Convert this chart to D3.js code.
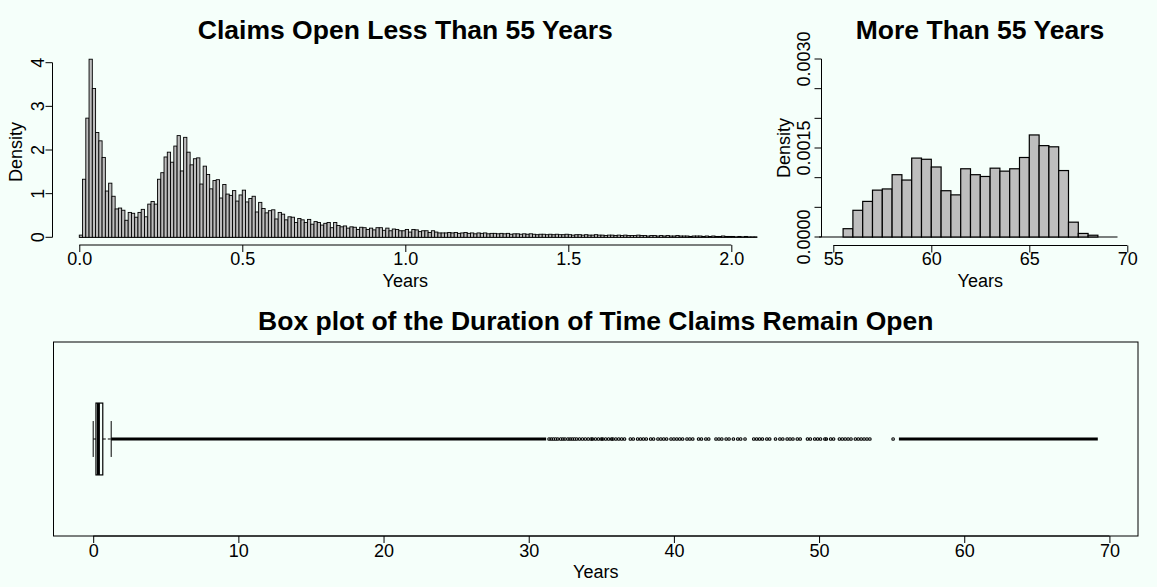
<!DOCTYPE html>
<html>
<head>
<meta charset="utf-8">
<script src="https://cdn.jsdelivr.net/npm/d3@7"></script>
<style>
  html, body { margin: 0; padding: 0; background: #F5FFFA; }
  svg { display: block; font-family: "Liberation Sans", Arial, Helvetica, sans-serif; }
</style>
</head>
<body>
<svg id="fig" width="1157" height="587"></svg>
<script>
// ---- Claims open less than 55 years: density per 0.01-year bin, starting at 0 ----
const shortBinWidth = 0.01;
const shortDensity = [
  0.05, 1.33, 2.73, 4.08, 3.41, 2.40, 2.21, 1.83, 1.06, 1.24,
  0.94, 0.65, 0.67, 0.62, 0.39, 0.57, 0.55, 0.46, 0.57, 0.64,
  0.47, 0.76, 0.82, 0.76, 1.33, 1.48, 1.84, 1.95, 1.72, 2.09,
  2.33, 1.52, 2.29, 1.95, 1.66, 1.80, 1.82, 1.22, 1.63, 1.44,
  1.11, 1.30, 1.32, 0.90, 1.21, 0.99, 0.96, 1.07, 0.83, 0.97,
  1.08, 0.81, 0.89, 0.94, 0.58, 0.80, 0.66, 0.56, 0.61, 0.63,
  0.42, 0.57, 0.53, 0.40, 0.47, 0.46, 0.34, 0.43, 0.40, 0.34,
  0.41, 0.30, 0.36, 0.34, 0.28, 0.32, 0.34, 0.22, 0.34, 0.27,
  0.24, 0.26, 0.21, 0.24, 0.23, 0.18, 0.23, 0.22, 0.18, 0.21,
  0.17, 0.22, 0.22, 0.16, 0.21, 0.15, 0.19, 0.18, 0.15, 0.15,
  0.18, 0.12, 0.18, 0.17, 0.13, 0.15, 0.15, 0.11, 0.15, 0.12,
  0.10, 0.10, 0.10, 0.11, 0.10, 0.11, 0.09, 0.10, 0.11, 0.09,
  0.10, 0.08, 0.10, 0.09, 0.10, 0.08, 0.09, 0.09, 0.08, 0.09,
  0.08, 0.09, 0.07, 0.08, 0.08, 0.07, 0.08, 0.07, 0.08, 0.07,
  0.06, 0.07, 0.07, 0.06, 0.07, 0.06, 0.07, 0.06, 0.06, 0.07,
  0.06, 0.05, 0.06, 0.06, 0.05, 0.06, 0.05, 0.05, 0.06, 0.05,
  0.05, 0.04, 0.05, 0.05, 0.04, 0.05, 0.04, 0.05, 0.04, 0.04,
  0.04, 0.05, 0.04, 0.04, 0.03, 0.04, 0.04, 0.03, 0.04, 0.03,
  0.04, 0.03, 0.03, 0.04, 0.03, 0.03, 0.03, 0.02, 0.03, 0.03,
  0.03, 0.02, 0.03, 0.02, 0.03, 0.02, 0.02, 0.03, 0.02, 0.02,
  0.02, 0.01, 0.02, 0.01, 0.02, 0.01, 0.01, 0.01
];
const shortXTicks = [0, 0.5, 1.0, 1.5, 2.0];
const shortXTickLabels = ["0.0", "0.5", "1.0", "1.5", "2.0"];
const shortYTicks = [0, 1, 2, 3, 4];
const shortYTickLabels = ["0", "1", "2", "3", "4"];

// ---- Claims open more than 55 years: density per 0.5-year bin, starting at 54 ----
const longBreakStart = 54.0;
const longBinWidth = 0.5;
const longDensity = [
  0, 0, 0, 0.00014, 0.00045, 0.00060, 0.00079, 0.00081, 0.00105, 0.00096,
  0.00133, 0.00131, 0.00118, 0.00078, 0.00071, 0.00115, 0.00105, 0.00102, 0.00116, 0.00111,
  0.00115, 0.00134, 0.00172, 0.00154, 0.00152, 0.00112, 0.00025, 0.00006, 0.00003, 0, 0
];
const longXTicks = [55, 60, 65, 70];
const longYTicks = [0, 0.0005, 0.0010, 0.0015, 0.0020, 0.0025, 0.0030];
const longYTickLabels = ["0.0000", "", "", "0.0015", "", "", "0.0030"];

// ---- Box plot of all durations (years) ----
const boxFive = [0, 0.19, 0.36, 0.66, 1.24];      // lower whisker, Q1, median, Q3, upper whisker
const denseOutlierRuns = [[1.24, 31.2], [55.5, 69.2]];
const sparseOutliers = [
  31.4, 31.55, 31.7, 31.85, 32.0, 32.2, 32.35, 32.5, 32.7, 32.85, 33.0, 33.15,
  33.3, 33.5, 33.7, 33.9, 34.1, 34.3, 34.4, 34.6, 34.8, 35.0, 35.1, 35.3, 35.5, 35.7, 35.8,
  36.0, 36.2, 36.4, 36.6, 37.0, 37.2, 37.5, 37.7, 37.9, 38.1, 38.4, 38.6, 38.9, 39.1, 39.3,
  39.5, 39.8, 40.0, 40.2, 40.4, 40.6, 40.9, 41.1, 41.3, 41.7, 41.9, 42.2, 42.4, 42.9, 43.1,
  43.3, 43.6, 43.8, 44.1, 44.4, 44.6, 44.9, 45.5, 45.7, 45.9, 46.1, 46.4, 46.6, 47.0, 47.3,
  47.5, 47.8, 48.0, 48.2, 48.5, 48.7, 49.2, 49.4, 49.7, 49.9, 50.1, 50.4, 50.5, 50.8, 51.0,
  51.4, 51.6, 51.8, 52.0, 52.2, 52.5, 52.7, 52.9, 53.1, 53.3, 53.5, 55.1
];
const boxXTicks = [0, 10, 20, 30, 40, 50, 60, 70];

const titles = ["Claims Open Less Than 55 Years", "More Than 55 Years",
                "Box plot of the Duration of Time Claims Remain Open"];

// ---------------------------------------------------------------
const svg = d3.select("#fig");
const TICK = 7, FS = 18, TITLE_FS = 26.5;
const barFill = "#BEBEBE";

function title(text, x, y) {
  svg.append("text").attr("x", x).attr("y", y)
    .attr("text-anchor", "middle").attr("font-weight", "bold")
    .attr("font-size", TITLE_FS).attr("fill", "#000").text(text);
}

function bottomAxis(scale, ticks, labels, y, pad) {
  const ax = d3.axisBottom(scale).tickValues(ticks)
    .tickFormat((d, i) => labels[i]).tickSize(TICK).tickSizeOuter(0).tickPadding(pad);
  const g = svg.append("g").attr("transform", `translate(0,${y})`).call(ax);
  g.select(".domain").remove();
  g.append("line").attr("x1", scale(ticks[0])).attr("x2", scale(ticks[ticks.length - 1]))
    .attr("stroke", "#000");
  g.selectAll(".tick line").attr("stroke", "#000");
  g.selectAll("text").attr("font-size", FS).attr("font-family", null).attr("fill", "#000");
  return g;
}

function leftAxisRotated(scale, ticks, labels, x, labelBaseX) {
  const g = svg.append("g");
  g.append("line").attr("x1", x).attr("x2", x)
    .attr("y1", scale(ticks[0])).attr("y2", scale(ticks[ticks.length - 1])).attr("stroke", "#000");
  g.selectAll("line.tk").data(ticks).join("line").attr("class", "tk")
    .attr("x1", x).attr("x2", x - TICK)
    .attr("y1", d => scale(d)).attr("y2", d => scale(d)).attr("stroke", "#000");
  g.selectAll("text").data(ticks).join("text")
    .attr("transform", d => `translate(${labelBaseX},${scale(d)}) rotate(-90)`)
    .attr("text-anchor", "middle").attr("font-size", FS).attr("fill", "#000")
    .text((d, i) => labels[i]);
}

function axisLabel(text, x, y, rotate) {
  svg.append("text")
    .attr("transform", rotate ? `translate(${x},${y}) rotate(-90)` : `translate(${x},${y})`)
    .attr("text-anchor", "middle").attr("font-size", FS).attr("fill", "#000").text(text);
}

// ---------------- Left histogram ----------------
{
  const x = d3.scaleLinear().domain([-0.08, 2.08]).range([53.2, 757.4]);
  const y = d3.scaleLinear().domain([0, 4]).range([237.3, 62.7]);
  svg.append("clipPath").attr("id", "clipShort").append("rect")
    .attr("x", x.range()[0]).attr("y", 40).attr("width", x.range()[1] - x.range()[0]).attr("height", 210);
  const bins = shortDensity.map((d, i) => ({ x0: i * shortBinWidth, x1: (i + 1) * shortBinWidth, d }));
  const g = svg.append("g").attr("clip-path", "url(#clipShort)");
  g.append("line").attr("x1", x(0)).attr("x2", x(bins[bins.length - 1].x1))
    .attr("y1", y(0)).attr("y2", y(0)).attr("stroke", "#000");
  g.selectAll("rect").data(bins).join("rect")
    .attr("x", b => x(b.x0)).attr("width", b => x(b.x1) - x(b.x0))
    .attr("y", b => y(b.d)).attr("height", b => y(0) - y(b.d))
    .attr("fill", barFill).attr("stroke", "#000").attr("stroke-width", 0.9);

  bottomAxis(x, shortXTicks, shortXTickLabels, 245, 0.2);
  leftAxisRotated(y, shortYTicks, shortYTickLabels, 52.5, 43.5);
  axisLabel("Density", 22, (y(0) + y(4)) / 2 + 2, true);
  axisLabel("Years", x(1.0), 287, false);
  title(titles[0], (x.range()[0] + x.range()[1]) / 2, 38.5);
}

// ---------------- Right histogram ----------------
{
  const x = d3.scaleLinear().domain([55, 70]).range([833.3, 1127.3]);
  const y = d3.scaleLinear().domain([0, 0.003]).range([237, 59]);
  svg.append("clipPath").attr("id", "clipLong").append("rect")
    .attr("x", 819).attr("y", 40).attr("width", 1139 - 819).attr("height", 210);
  const bins = longDensity.map((d, i) => ({
    x0: longBreakStart + i * longBinWidth, x1: longBreakStart + (i + 1) * longBinWidth, d }));
  const g = svg.append("g").attr("clip-path", "url(#clipLong)");
  g.append("line").attr("x1", x(bins[0].x0)).attr("x2", x(bins[bins.length - 1].x1))
    .attr("y1", y(0)).attr("y2", y(0)).attr("stroke", "#000").attr("stroke-width", 1.2);
  g.selectAll("rect").data(bins.filter(b => b.d > 0)).join("rect")
    .attr("x", b => x(b.x0)).attr("width", b => x(b.x1) - x(b.x0))
    .attr("y", b => y(b.d)).attr("height", b => y(0) - y(b.d))
    .attr("fill", barFill).attr("stroke", "#000").attr("stroke-width", 1.2);

  bottomAxis(x, longXTicks, longXTicks.map(String), 245.5, 0.2);
  leftAxisRotated(y, longYTicks, longYTickLabels, 821.5, 810);
  axisLabel("Density", 790, 148, true);
  axisLabel("Years", x(62.5), 287, false);
  title(titles[1], 980, 38.5);
}

// ---------------- Box plot ----------------
{
  const x = d3.scaleLinear().domain([0, 69.2]).range([93.2, 1097.8]);
  const y = d3.scaleLinear().domain([0.46, 1.54]).range([536, 342]);
  const [lo, q1, med, q3, hi] = boxFive;
  const left = 53.5, right = 1138;

  svg.append("rect").attr("x", left).attr("y", y(1.54)).attr("width", right - left)
    .attr("height", y(0.46) - y(1.54)).attr("fill", "none").attr("stroke", "#000");

  const g = svg.append("g");
  // whiskers
  g.append("line").attr("x1", x(lo)).attr("x2", x(q1)).attr("y1", y(1)).attr("y2", y(1))
    .attr("stroke", "#000").attr("stroke-dasharray", "3,2");
  g.append("line").attr("x1", x(q3)).attr("x2", x(hi)).attr("y1", y(1)).attr("y2", y(1))
    .attr("stroke", "#000").attr("stroke-dasharray", "3,2");
  // staples
  [lo, hi].forEach(v => g.append("line").attr("x1", x(v)).attr("x2", x(v))
    .attr("y1", y(0.9)).attr("y2", y(1.1)).attr("stroke", "#000"));
  // box and median
  g.append("rect").attr("x", x(q1)).attr("width", x(q3) - x(q1))
    .attr("y", y(1.2)).attr("height", y(0.8) - y(1.2))
    .attr("fill", "none").attr("stroke", "#000").attr("stroke-width", 1.2);
  g.append("line").attr("x1", x(med)).attr("x2", x(med)).attr("y1", y(1.2)).attr("y2", y(0.8))
    .attr("stroke", "#000").attr("stroke-width", 3);
  // outliers: packed runs and individual points
  g.selectAll("line.run").data(denseOutlierRuns).join("line").attr("class", "run")
    .attr("x1", d => x(d[0])).attr("x2", d => x(d[1])).attr("y1", y(1)).attr("y2", y(1))
    .attr("stroke", "#000").attr("stroke-width", 2.8);
  g.selectAll("circle").data(sparseOutliers).join("circle")
    .attr("cx", d => x(d)).attr("cy", y(1)).attr("r", 1.3)
    .attr("fill", "none").attr("stroke", "#000").attr("stroke-width", 1.1);

  bottomAxis(x, boxXTicks, boxXTicks.map(String), 536, 1.2);
  axisLabel("Years", (left + right) / 2, 578, false);
  title(titles[2], (left + right) / 2, 330);
}
</script>
</body>
</html>
